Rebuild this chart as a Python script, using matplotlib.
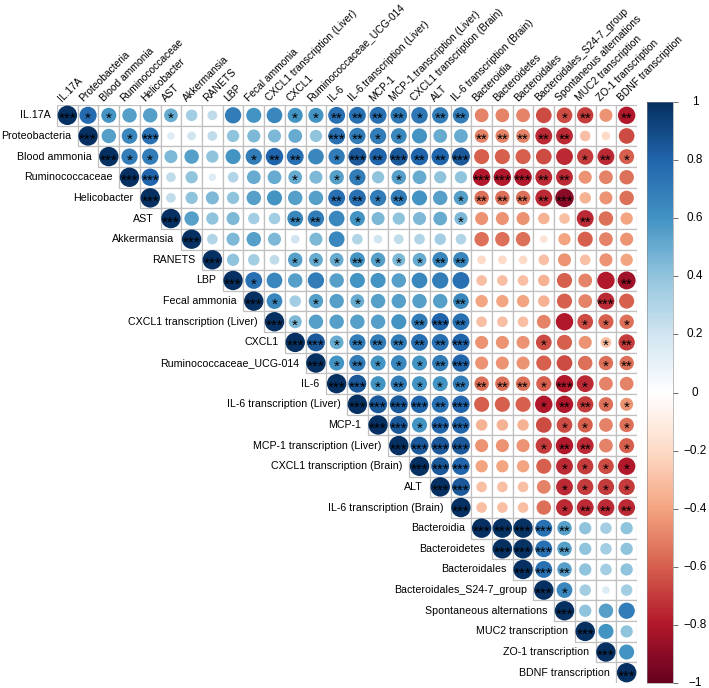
import numpy as np
import matplotlib
matplotlib.use("Agg")
import matplotlib.pyplot as plt
from matplotlib import patches
from matplotlib.colors import LinearSegmentedColormap, Normalize
from matplotlib.cm import ScalarMappable
from matplotlib.textpath import TextPath
from matplotlib.font_manager import FontProperties

plt.rcParams['font.family'] = ['Liberation Sans', 'DejaVu Sans']

# row / column labels (same order)
row_labels = ['IL.17A', 'Proteobacteria', 'Blood ammonia', 'Ruminococcaceae', 'Helicobacter',
              'AST', 'Akkermansia', 'RANETS', 'LBP', 'Fecal ammonia',
              'CXCL1 transcription (Liver)', 'CXCL1', 'Ruminococcaceae_UCG-014', 'IL-6',
              'IL-6 transcription (Liver)', 'MCP-1', 'MCP-1 transcription (Liver)',
              'CXCL1 transcription (Brain)', 'ALT', 'IL-6 transcription (Brain)',
              'Bacteroidia', 'Bacteroidetes', 'Bacteroidales', 'Bacteroidales_S24-7_group',
              'Spontaneous alternations', 'MUC2 transcription', 'ZO-1 transcription',
              'BDNF transcription']
col_labels = ['IL.17A', 'Proteobacteria', 'Blood ammonia', 'Ruminococcaceae', 'Helicobacter',
              'AST', 'Akkermansia', 'RANETS', 'LBP', 'Fecal ammonia',
              'CXCL1 transcription (Liver)', 'CXCL1', 'Ruminococcaceae_UCG-014', 'IL-6',
              'IL-6.transcription (Liver)', 'MCP-1', 'MCP-1.transcription (Liver)',
              'CXCL1 transcription (Brain)', 'ALT', 'IL-6 transcription (Brain)',
              'Bacteroidia', 'Bacteroidetes', 'Bacteroidales', 'Bacteroidales_S24-7_group',
              'Spontaneous alternations', 'MUC2 transcription', 'ZO-1 transcription',
              'BDNF transcription']

# correlations right of the diagonal (diagonal = 1), one list per row
corr_rows = [
    [0.78, 0.6, 0.55, 0.55, 0.5, 0.35, 0.25, 0.7, 0.6, 0.65, 0.6, 0.6, 0.75, 0.75, 0.75, 0.72, 0.72, 0.7, 0.7,
     -0.5, -0.5, -0.5, -0.65, -0.65, -0.7, -0.45, -0.8],
    [0.55, 0.65, 0.75, 0.15, 0.2, 0.25, 0.4, 0.45, 0.45, 0.5, 0.4, 0.75, 0.7, 0.7, 0.65, 0.6, 0.5, 0.5,
     -0.5, -0.5, -0.5, -0.75, -0.75, -0.3, -0.2, -0.65],
    [0.7, 0.7, 0.45, 0.55, 0.4, 0.6, 0.7, 0.8, 0.75, 0.65, 0.7, 0.85, 0.8, 0.85, 0.8, 0.8, 0.85,
     -0.6, -0.6, -0.6, -0.65, -0.75, -0.7, -0.75, -0.6],
    [0.8, 0.25, 0.4, 0.15, 0.3, 0.5, 0.5, 0.5, 0.45, 0.55, 0.7, 0.4, 0.55, 0.5, 0.4, 0.4,
     -0.8, -0.8, -0.8, -0.75, -0.75, -0.45, -0.5, -0.55],
    [0.25, 0.4, 0.45, 0.4, 0.55, 0.6, 0.55, 0.55, 0.75, 0.75, 0.7, 0.7, 0.6, 0.55, 0.55,
     -0.55, -0.55, -0.55, -0.75, -0.9, -0.35, -0.45, -0.55],
    [0.55, 0.4, 0.45, 0.35, 0.35, 0.65, 0.7, 0.65, 0.6, 0.45, 0.4, 0.45, 0.5, 0.45,
     -0.45, -0.45, -0.45, -0.35, -0.3, -0.75, -0.55, -0.4],
    [0.3, 0.45, 0.55, 0.45, 0.2, 0.45, 0.65, 0.3, 0.2, 0.25, 0.3, 0.35, 0.3,
     -0.55, -0.55, -0.55, -0.15, -0.4, -0.6, -0.5, -0.45],
    [0.4, 0.35, 0.25, 0.55, 0.5, 0.5, 0.6, 0.55, 0.45, 0.5, 0.65, 0.65,
     -0.2, -0.2, -0.2, -0.3, -0.45, -0.3, -0.45, -0.4],
    [0.75, 0.65, 0.55, 0.7, 0.55, 0.6, 0.6, 0.55, 0.65, 0.7, 0.75,
     -0.3, -0.3, -0.3, -0.35, -0.6, -0.5, -0.8, -0.85],
    [0.65, 0.35, 0.55, 0.55, 0.5, 0.55, 0.55, 0.55, 0.55, 0.65,
     -0.4, -0.4, -0.4, -0.35, -0.6, -0.5, -0.75, -0.6],
    [0.45, 0.55, 0.55, 0.55, 0.55, 0.6, 0.7, 0.8, 0.75,
     -0.3, -0.3, -0.3, -0.5, -0.8, -0.65, -0.6, -0.55],
    [0.85, 0.5, 0.7, 0.7, 0.7, 0.75, 0.75, 0.8,
     -0.45, -0.45, -0.45, -0.65, -0.6, -0.45, -0.3, -0.7],
    [0.6, 0.7, 0.6, 0.65, 0.6, 0.7, 0.8,
     -0.45, -0.45, -0.45, -0.6, -0.65, -0.55, -0.55, -0.55],
    [0.85, 0.6, 0.7, 0.6, 0.6, 0.7,
     -0.55, -0.55, -0.55, -0.6, -0.8, -0.75, -0.5, -0.5],
    [0.85, 0.85, 0.8, 0.75, 0.8,
     -0.6, -0.6, -0.6, -0.8, -0.8, -0.7, -0.55, -0.45],
    [0.85, 0.6, 0.8, 0.8,
     -0.35, -0.35, -0.35, -0.65, -0.65, -0.6, -0.5, -0.55],
    [0.85, 0.85, 0.85,
     -0.45, -0.45, -0.45, -0.7, -0.8, -0.75, -0.5, -0.6],
    [0.85, 0.8,
     -0.4, -0.4, -0.4, -0.6, -0.75, -0.7, -0.65, -0.8],
    [0.85,
     -0.3, -0.3, -0.3, -0.5, -0.75, -0.7, -0.7, -0.7],
    [-0.3, -0.3, -0.3, -0.55, -0.75, -0.75, -0.75, -0.75],
    [0.99, 0.99, 0.75, 0.55, 0.4, 0.35, 0.4],
    [0.99, 0.75, 0.55, 0.4, 0.35, 0.4],
    [0.75, 0.55, 0.4, 0.35, 0.4],
    [0.65, 0.35, 0.15, 0.35],
    [0.4, 0.55, 0.7],
    [0.6, 0.4],
    [0.6],
    [],
]

# significance stars, same shape as corr_rows
star_rows = [
    ['*', '*', '', '', '*', '', '', '', '', '', '*', '*', '**', '**', '**', '**', '*', '**', '**',
     '', '', '', '', '*', '**', '', '**'],
    ['', '*', '***', '', '', '', '', '', '', '', '', '***', '**', '*', '*', '', '', '',
     '**', '**', '**', '**', '**', '', '', ''],
    ['*', '*', '', '', '', '', '*', '**', '**', '', '*', '***', '**', '***', '**', '**', '***',
     '', '', '', '', '', '*', '**', '*'],
    ['***', '', '', '', '', '', '', '*', '', '*', '*', '', '*', '', '', '',
     '***', '***', '***', '**', '**', '', '', ''],
    ['', '', '', '', '', '', '', '', '**', '**', '*', '**', '', '', '*',
     '**', '**', '**', '**', '***', '', '', ''],
    ['', '', '', '', '', '**', '**', '', '*', '', '', '', '', '*',
     '', '', '', '', '', '**', '', ''],
    [''] * 21,
    ['', '', '', '*', '*', '*', '**', '*', '*', '*', '**', '**',
     '', '', '', '', '', '', '', ''],
    ['*', '', '', '', '', '', '', '', '', '', '',
     '', '', '', '', '', '', '', '**'],
    ['*', '', '*', '', '*', '', '', '', '', '**',
     '', '', '', '', '', '', '***', ''],
    ['*', '', '', '', '', '', '**', '***', '**',
     '', '', '', '', '', '*', '*', '*'],
    ['***', '*', '**', '**', '**', '**', '**', '***',
     '', '', '', '*', '', '', '*', '**'],
    ['*', '**', '*', '*', '*', '**', '***',
     '', '', '', '', '', '', '*', '**'],
    ['***', '*', '**', '*', '*', '**',
     '**', '**', '**', '*', '***', '*', '', ''],
    ['***', '***', '***', '**', '***',
     '', '', '', '*', '**', '**', '*', '*'],
    ['***', '*', '***', '***',
     '', '', '', '', '*', '*', '', '*'],
    ['***', '***', '***',
     '', '', '', '*', '**', '**', '', '*'],
    ['***', '***',
     '', '', '', '', '*', '*', '*', '*'],
    ['***',
     '', '', '', '', '*', '*', '*', '*'],
    ['', '', '', '', '*', '**', '**', '**'],
    ['***', '***', '***', '**', '', '', ''],
    ['***', '***', '**', '', '', ''],
    ['***', '**', '', '', ''],
    ['*', '', '', ''],
    ['', '', ''],
    ['', ''],
    [''],
    [],
]

cb_ticks = [1, 0.8, 0.6, 0.4, 0.2, 0, -0.2, -0.4, -0.6, -0.8, -1]
cb_labels = ['1', '0.8', '0.6', '0.4', '0.2', '0', '\u22120.2', '\u22120.4', '\u22120.6', '\u22120.8', '\u22121']

# corrplot RdBu palette
cmap = LinearSegmentedColormap.from_list('corr', ["#67001F", "#B2182B", "#D6604D", "#F4A582", "#FDDBC7",
                                                  "#FFFFFF", "#D1E5F0", "#92C5DE", "#4393C3", "#2166AC",
                                                  "#053061"])
norm = Normalize(-1, 1)

# vertical middle of the '*' glyph, so the stars sit in the circle centre
star_font = FontProperties(family='Liberation Sans', size=11)
ext = TextPath((0, 0), '*', prop=star_font).get_extents()
star_mid = (ext.y0 + ext.y1) / 2

n = len(row_labels)
fig = plt.figure(figsize=(7.09, 6.88), dpi=100)
ax = fig.add_axes([57 / 709, 5 / 688, 580 / 709, 578 / 688])
ax.set_xlim(0, n)
ax.set_ylim(n, 0)
ax.axis('off')

for i in range(n):
    vals = [1.0] + corr_rows[i]
    stars = ['***'] + star_rows[i]
    for k, r in enumerate(vals):
        j = i + k
        ax.add_patch(patches.Rectangle((j, i), 1, 1, facecolor='white', edgecolor='#C0C0C0', lw=0.9))
        ax.add_patch(patches.Circle((j + 0.5, i + 0.5), 0.47 * np.sqrt(abs(r)),
                                    facecolor=cmap(norm(r)), edgecolor='none'))
        if stars[k]:
            ax.annotate(stars[k], xy=(j + 0.5, i + 0.5), xytext=(0, -star_mid),
                        textcoords='offset points', ha='center', va='baseline',
                        fontproperties=star_font, color='black')
    ax.text(i - 0.32, i + 0.5, row_labels[i], ha='right', va='center', fontsize=7.7)
    ax.text(i + 0.32, -0.1, col_labels[i], ha='left', va='bottom', rotation=45,
            rotation_mode='anchor', fontsize=7.4, clip_on=False)

# colour legend
cax = fig.add_axes([647 / 709, 5 / 688, 26 / 709, 581 / 688])
cb = fig.colorbar(ScalarMappable(norm=norm, cmap=cmap), cax=cax)
cb.outline.set_linewidth(0.4)
cb.outline.set_edgecolor('#888888')
cax.set_yticks(cb_ticks)
cax.set_yticklabels([])
cax.tick_params(axis='y', length=3.5, width=0.6, color='#555555', direction='out')
for t, lab in zip(cb_ticks, cb_labels):
    cax.text(1.85, t, lab, ha='center', va='center', fontsize=8.5,
             transform=cax.get_yaxis_transform())

fig.savefig('out.png', dpi=100)
